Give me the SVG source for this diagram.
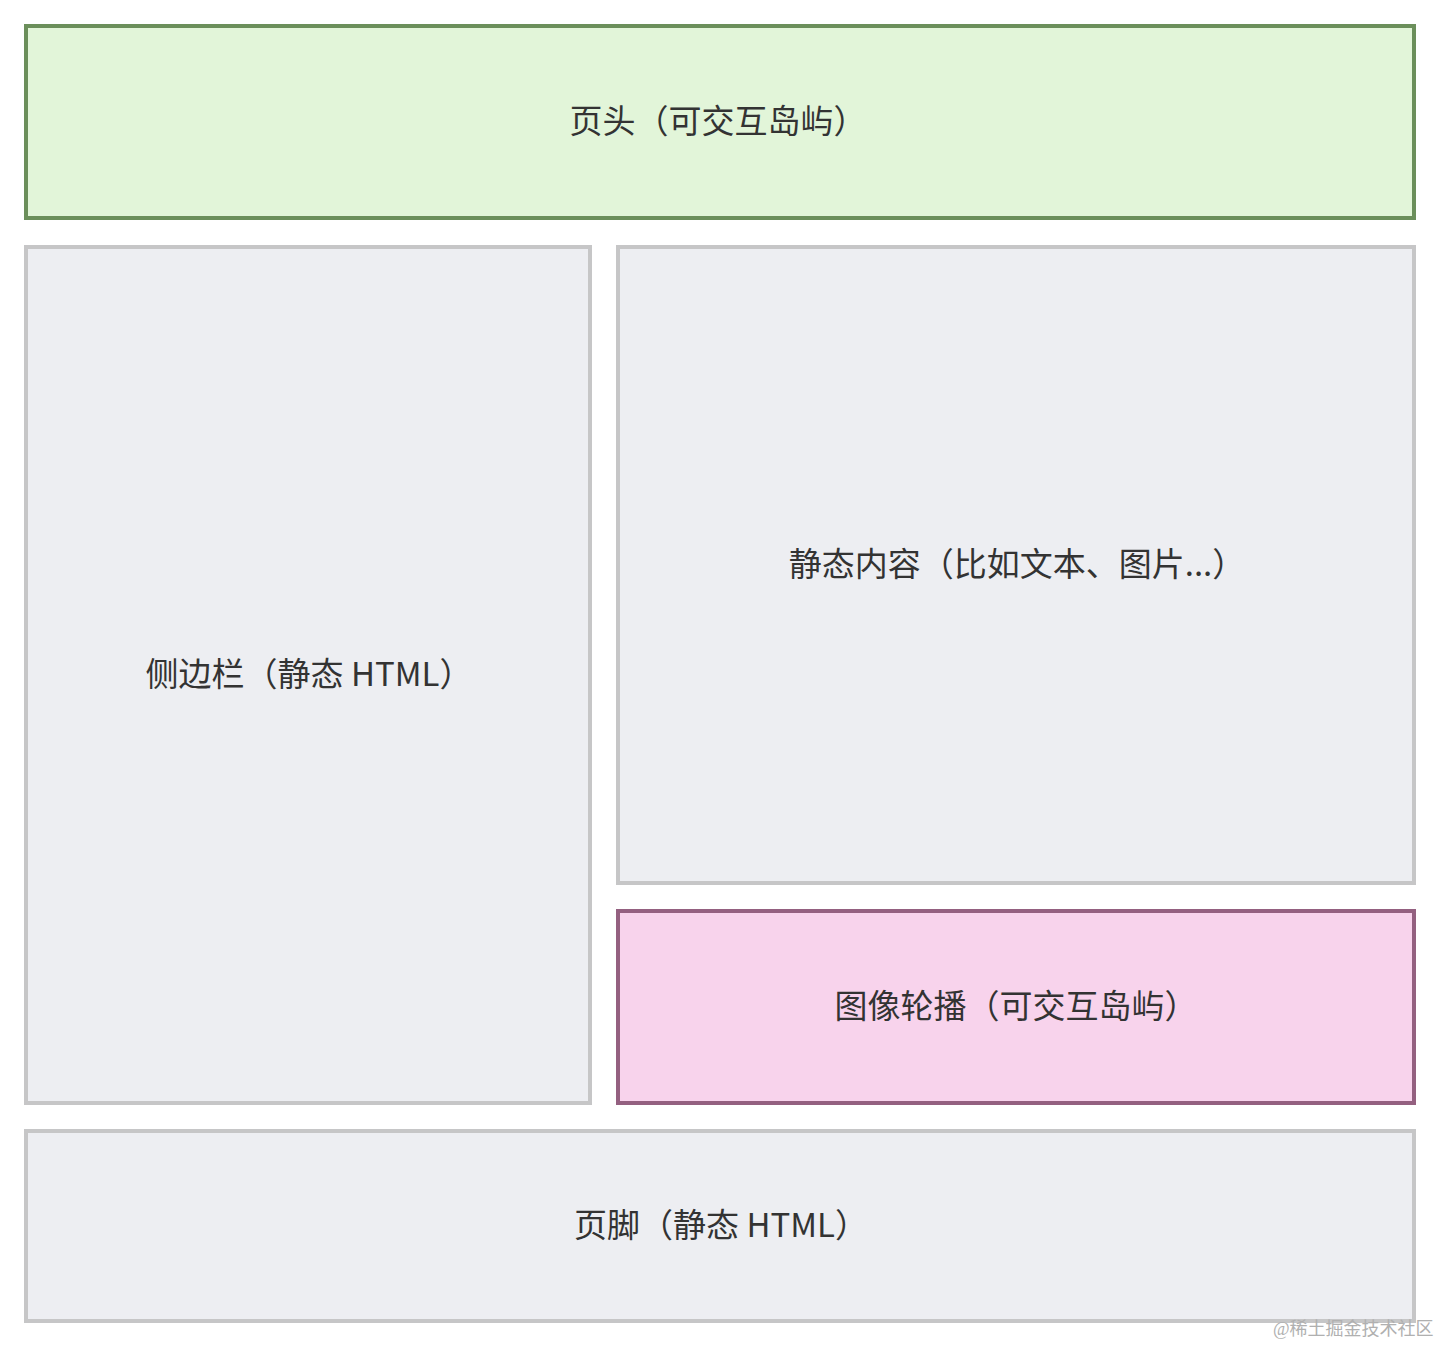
<svg xmlns="http://www.w3.org/2000/svg" width="1440" height="1346" viewBox="0 0 1440 1346">
<style>
.box{stroke-width:4}
.grey{fill:#edeef2;stroke:#c6c6c7}
.green{fill:#e2f5d9;stroke:#6b8f5b}
.pink{fill:#f8d3ec;stroke:#946080}
.lbl{font-family:"Noto Sans CJK SC","Liberation Sans",sans-serif;font-size:33px;fill:#333333;text-anchor:middle;dominant-baseline:central}
.wm{font-family:"Liberation Serif","Noto Sans CJK SC",serif;font-size:18px;fill:#b0b0b0}
</style>
<rect width="1440" height="1346" fill="#ffffff"/>
<g id="header">
<rect class="box green" x="26" y="26" width="1388" height="192"/>
<text class="lbl" x="718" y="119">页头（可交互岛屿）</text>
</g>
<g id="sidebar">
<rect class="box grey" x="26" y="247" width="564" height="856"/>
<text class="lbl" x="309" y="672">侧边栏（静态 HTML）</text>
</g>
<g id="content">
<rect class="box grey" x="618" y="247" width="796" height="636"/>
<text class="lbl" x="1017" y="562">静态内容（比如文本、图片...）</text>
</g>
<g id="carousel">
<rect class="box pink" x="618" y="911" width="796" height="192"/>
<text class="lbl" x="1016" y="1004">图像轮播（可交互岛屿）</text>
</g>
<g id="footer">
<rect class="box grey" x="26" y="1131" width="1388" height="190"/>
<text class="lbl" x="721" y="1223">页脚（静态 HTML）</text>
</g>
<g id="connectors"></g>
<text class="wm" x="1273" y="1335">@稀土掘金技术社区</text>
</svg>
